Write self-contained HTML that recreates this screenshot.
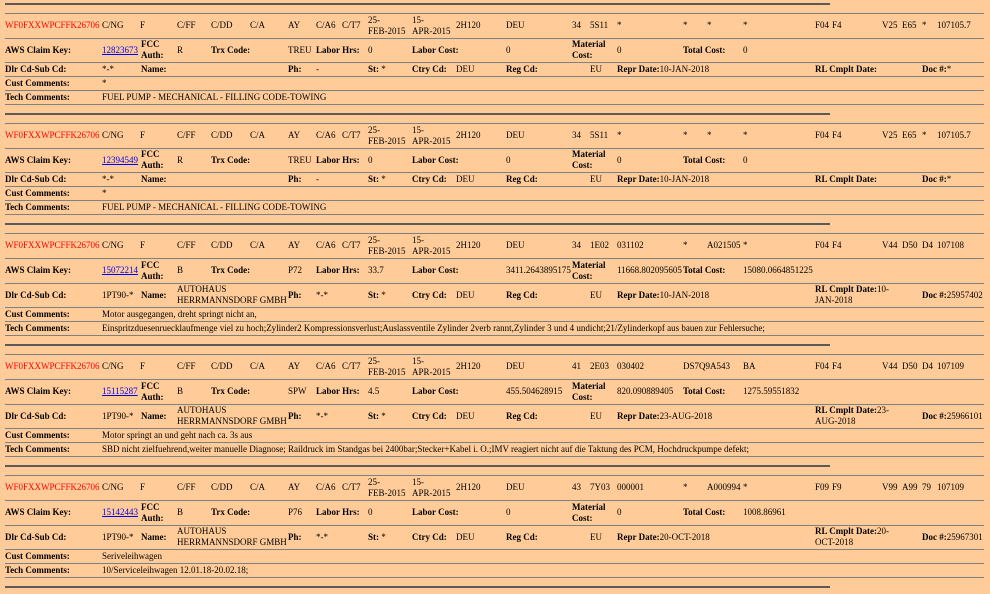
<!DOCTYPE html>
<html><head><meta charset="utf-8"><style>
*{margin:0;padding:0;box-sizing:border-box}
body{width:990px;height:594px;background:#FFCC99;position:relative;overflow:hidden;font-family:"Liberation Serif",serif;font-size:9px;color:#000}
.tk{position:absolute;left:5px;width:825px;height:2px;background:#5a5a5a}
.b{position:absolute;left:0;width:990px}
.l{position:absolute;left:5px;width:979px;height:1px;background:#808080}
.r{position:absolute;left:0;width:990px}
.c{position:absolute;top:0;bottom:0;display:flex;align-items:center;line-height:11px;white-space:nowrap}
b{font-weight:bold}
.red{color:#ff0000}
a{color:#0000ee;text-decoration:underline}
</style></head><body>
<div class="tk" style="top:3px"></div>
<div class="tk" style="top:113px"></div>
<div class="tk" style="top:223px"></div>
<div class="tk" style="top:344px"></div>
<div class="tk" style="top:465px"></div>
<div class="tk" style="top:586px"></div>

<!-- Block 1 -->
<div class="b" style="top:13px">
<div class="l" style="top:0"></div><div class="l" style="top:25px"></div><div class="l" style="top:49px"></div><div class="l" style="top:63px"></div><div class="l" style="top:77px"></div><div class="l" style="top:91px"></div>
<div class="r" style="top:0;height:25px">
<div class="c red" style="left:5px">WF0FXXWPCFFK26706</div><div class="c" style="left:102px">C/NG</div><div class="c" style="left:140px">F</div><div class="c" style="left:177px">C/FF</div><div class="c" style="left:211px">C/DD</div><div class="c" style="left:250px">C/A</div><div class="c" style="left:288px">AY</div><div class="c" style="left:316px">C/A6</div><div class="c" style="left:342px">C/T7</div><div class="c" style="left:368px">25-<br>FEB-2015</div><div class="c" style="left:412px">15-<br>APR-2015</div><div class="c" style="left:456px">2H120</div><div class="c" style="left:506px">DEU</div><div class="c" style="left:572px">34</div><div class="c" style="left:590px">5S11</div><div class="c" style="left:617px">*</div><div class="c" style="left:683px">*</div><div class="c" style="left:707px">*</div><div class="c" style="left:743px">*</div><div class="c" style="left:815px">F04</div><div class="c" style="left:832px">F4</div><div class="c" style="left:882px">V25</div><div class="c" style="left:902px">E65</div><div class="c" style="left:922px">*</div><div class="c" style="left:937px">107105.7</div>
</div>
<div class="r" style="top:25px;height:24px">
<div class="c" style="left:5px"><b>AWS Claim Key:</b></div><div class="c" style="left:102px"><a>12823673</a></div><div class="c" style="left:141px"><b>FCC<br>Auth:</b></div><div class="c" style="left:177px">R</div><div class="c" style="left:211px"><b>Trx Code:</b></div><div class="c" style="left:288px">TREU</div><div class="c" style="left:316px"><b>Labor Hrs:</b></div><div class="c" style="left:368px">0</div><div class="c" style="left:412px"><b>Labor Cost:</b></div><div class="c" style="left:506px">0</div><div class="c" style="left:572px"><b>Material<br>Cost:</b></div><div class="c" style="left:617px">0</div><div class="c" style="left:683px"><b>Total Cost:</b></div><div class="c" style="left:743px">0</div>
</div>
<div class="r" style="top:49px;height:14px">
<div class="c" style="left:5px"><b>Dlr Cd-Sub Cd:</b></div><div class="c" style="left:102px">*-*</div><div class="c" style="left:141px"><b>Name:</b></div><div class="c" style="left:288px"><b>Ph:</b></div><div class="c" style="left:316px">-</div><div class="c" style="left:368px"><b>St:</b>&nbsp;*</div><div class="c" style="left:412px"><b>Ctry Cd:</b></div><div class="c" style="left:456px">DEU</div><div class="c" style="left:506px"><b>Reg Cd:</b></div><div class="c" style="left:590px">EU</div><div class="c" style="left:617px"><b>Repr Date:</b>10-JAN-2018</div><div class="c" style="left:815px"><b>RL Cmplt Date:</b></div><div class="c" style="left:922px"><b>Doc #:</b>*</div>
</div>
<div class="r" style="top:63px;height:14px"><div class="c" style="left:5px"><b>Cust Comments:</b></div><div class="c" style="left:102px">*</div></div>
<div class="r" style="top:77px;height:14px"><div class="c" style="left:5px"><b>Tech Comments:</b></div><div class="c" style="left:102px">FUEL PUMP - MECHANICAL - FILLING CODE-TOWING</div></div>
</div>

<!-- Block 2 -->
<div class="b" style="top:123px">
<div class="l" style="top:0"></div><div class="l" style="top:25px"></div><div class="l" style="top:49px"></div><div class="l" style="top:63px"></div><div class="l" style="top:77px"></div><div class="l" style="top:91px"></div>
<div class="r" style="top:0;height:25px">
<div class="c red" style="left:5px">WF0FXXWPCFFK26706</div><div class="c" style="left:102px">C/NG</div><div class="c" style="left:140px">F</div><div class="c" style="left:177px">C/FF</div><div class="c" style="left:211px">C/DD</div><div class="c" style="left:250px">C/A</div><div class="c" style="left:288px">AY</div><div class="c" style="left:316px">C/A6</div><div class="c" style="left:342px">C/T7</div><div class="c" style="left:368px">25-<br>FEB-2015</div><div class="c" style="left:412px">15-<br>APR-2015</div><div class="c" style="left:456px">2H120</div><div class="c" style="left:506px">DEU</div><div class="c" style="left:572px">34</div><div class="c" style="left:590px">5S11</div><div class="c" style="left:617px">*</div><div class="c" style="left:683px">*</div><div class="c" style="left:707px">*</div><div class="c" style="left:743px">*</div><div class="c" style="left:815px">F04</div><div class="c" style="left:832px">F4</div><div class="c" style="left:882px">V25</div><div class="c" style="left:902px">E65</div><div class="c" style="left:922px">*</div><div class="c" style="left:937px">107105.7</div>
</div>
<div class="r" style="top:25px;height:24px">
<div class="c" style="left:5px"><b>AWS Claim Key:</b></div><div class="c" style="left:102px"><a>12394549</a></div><div class="c" style="left:141px"><b>FCC<br>Auth:</b></div><div class="c" style="left:177px">R</div><div class="c" style="left:211px"><b>Trx Code:</b></div><div class="c" style="left:288px">TREU</div><div class="c" style="left:316px"><b>Labor Hrs:</b></div><div class="c" style="left:368px">0</div><div class="c" style="left:412px"><b>Labor Cost:</b></div><div class="c" style="left:506px">0</div><div class="c" style="left:572px"><b>Material<br>Cost:</b></div><div class="c" style="left:617px">0</div><div class="c" style="left:683px"><b>Total Cost:</b></div><div class="c" style="left:743px">0</div>
</div>
<div class="r" style="top:49px;height:14px">
<div class="c" style="left:5px"><b>Dlr Cd-Sub Cd:</b></div><div class="c" style="left:102px">*-*</div><div class="c" style="left:141px"><b>Name:</b></div><div class="c" style="left:288px"><b>Ph:</b></div><div class="c" style="left:316px">-</div><div class="c" style="left:368px"><b>St:</b>&nbsp;*</div><div class="c" style="left:412px"><b>Ctry Cd:</b></div><div class="c" style="left:456px">DEU</div><div class="c" style="left:506px"><b>Reg Cd:</b></div><div class="c" style="left:590px">EU</div><div class="c" style="left:617px"><b>Repr Date:</b>10-JAN-2018</div><div class="c" style="left:815px"><b>RL Cmplt Date:</b></div><div class="c" style="left:922px"><b>Doc #:</b>*</div>
</div>
<div class="r" style="top:63px;height:14px"><div class="c" style="left:5px"><b>Cust Comments:</b></div><div class="c" style="left:102px">*</div></div>
<div class="r" style="top:77px;height:14px"><div class="c" style="left:5px"><b>Tech Comments:</b></div><div class="c" style="left:102px">FUEL PUMP - MECHANICAL - FILLING CODE-TOWING</div></div>
</div>

<!-- Block 3 -->
<div class="b" style="top:233px">
<div class="l" style="top:0"></div><div class="l" style="top:25px"></div><div class="l" style="top:50px"></div><div class="l" style="top:74px"></div><div class="l" style="top:88px"></div><div class="l" style="top:102px"></div>
<div class="r" style="top:0;height:25px">
<div class="c red" style="left:5px">WF0FXXWPCFFK26706</div><div class="c" style="left:102px">C/NG</div><div class="c" style="left:140px">F</div><div class="c" style="left:177px">C/FF</div><div class="c" style="left:211px">C/DD</div><div class="c" style="left:250px">C/A</div><div class="c" style="left:288px">AY</div><div class="c" style="left:316px">C/A6</div><div class="c" style="left:342px">C/T7</div><div class="c" style="left:368px">25-<br>FEB-2015</div><div class="c" style="left:412px">15-<br>APR-2015</div><div class="c" style="left:456px">2H120</div><div class="c" style="left:506px">DEU</div><div class="c" style="left:572px">34</div><div class="c" style="left:590px">1E02</div><div class="c" style="left:617px">031102</div><div class="c" style="left:683px">*</div><div class="c" style="left:707px">A021505</div><div class="c" style="left:743px">*</div><div class="c" style="left:815px">F04</div><div class="c" style="left:832px">F4</div><div class="c" style="left:882px">V44</div><div class="c" style="left:902px">D50</div><div class="c" style="left:922px">D4</div><div class="c" style="left:937px">107108</div>
</div>
<div class="r" style="top:25px;height:25px">
<div class="c" style="left:5px"><b>AWS Claim Key:</b></div><div class="c" style="left:102px"><a>15072214</a></div><div class="c" style="left:141px"><b>FCC<br>Auth:</b></div><div class="c" style="left:177px">B</div><div class="c" style="left:211px"><b>Trx Code:</b></div><div class="c" style="left:288px">P72</div><div class="c" style="left:316px"><b>Labor Hrs:</b></div><div class="c" style="left:368px">33.7</div><div class="c" style="left:412px"><b>Labor Cost:</b></div><div class="c" style="left:506px">3411.2643895175</div><div class="c" style="left:572px"><b>Material<br>Cost:</b></div><div class="c" style="left:617px">11668.802095605</div><div class="c" style="left:683px"><b>Total Cost:</b></div><div class="c" style="left:743px">15080.0664851225</div>
</div>
<div class="r" style="top:50px;height:24px">
<div class="c" style="left:5px"><b>Dlr Cd-Sub Cd:</b></div><div class="c" style="left:102px">1PT90-*</div><div class="c" style="left:141px"><b>Name:</b></div><div class="c" style="left:177px">AUTOHAUS<br>HERRMANNSDORF GMBH</div><div class="c" style="left:288px"><b>Ph:</b></div><div class="c" style="left:316px">*-*</div><div class="c" style="left:368px"><b>St:</b>&nbsp;*</div><div class="c" style="left:412px"><b>Ctry Cd:</b></div><div class="c" style="left:456px">DEU</div><div class="c" style="left:506px"><b>Reg Cd:</b></div><div class="c" style="left:590px">EU</div><div class="c" style="left:617px"><b>Repr Date:</b>10-JAN-2018</div><div class="c" style="left:815px"><span><b>RL Cmplt Date:</b>10-<br>JAN-2018</span></div><div class="c" style="left:922px"><b>Doc #:</b>25957402</div>
</div>
<div class="r" style="top:74px;height:14px"><div class="c" style="left:5px"><b>Cust Comments:</b></div><div class="c" style="left:102px">Motor ausgegangen, dreht springt nicht an,</div></div>
<div class="r" style="top:88px;height:14px"><div class="c" style="left:5px"><b>Tech Comments:</b></div><div class="c" style="left:102px">Einspritzduesenruecklaufmenge viel zu hoch;Zylinder2 Kompressionsverlust;Auslassventile Zylinder 2verb rannt,Zylinder 3 und 4 undicht;21/Zylinderkopf aus bauen zur Fehlersuche;</div></div>
</div>

<!-- Block 4 -->
<div class="b" style="top:354px">
<div class="l" style="top:0"></div><div class="l" style="top:25px"></div><div class="l" style="top:50px"></div><div class="l" style="top:74px"></div><div class="l" style="top:88px"></div><div class="l" style="top:102px"></div>
<div class="r" style="top:0;height:25px">
<div class="c red" style="left:5px">WF0FXXWPCFFK26706</div><div class="c" style="left:102px">C/NG</div><div class="c" style="left:140px">F</div><div class="c" style="left:177px">C/FF</div><div class="c" style="left:211px">C/DD</div><div class="c" style="left:250px">C/A</div><div class="c" style="left:288px">AY</div><div class="c" style="left:316px">C/A6</div><div class="c" style="left:342px">C/T7</div><div class="c" style="left:368px">25-<br>FEB-2015</div><div class="c" style="left:412px">15-<br>APR-2015</div><div class="c" style="left:456px">2H120</div><div class="c" style="left:506px">DEU</div><div class="c" style="left:572px">41</div><div class="c" style="left:590px">2E03</div><div class="c" style="left:617px">030402</div><div class="c" style="left:683px">DS7Q9A543</div><div class="c" style="left:743px">BA</div><div class="c" style="left:815px">F04</div><div class="c" style="left:832px">F4</div><div class="c" style="left:882px">V44</div><div class="c" style="left:902px">D50</div><div class="c" style="left:922px">D4</div><div class="c" style="left:937px">107109</div>
</div>
<div class="r" style="top:25px;height:25px">
<div class="c" style="left:5px"><b>AWS Claim Key:</b></div><div class="c" style="left:102px"><a>15115287</a></div><div class="c" style="left:141px"><b>FCC<br>Auth:</b></div><div class="c" style="left:177px">B</div><div class="c" style="left:211px"><b>Trx Code:</b></div><div class="c" style="left:288px">SPW</div><div class="c" style="left:316px"><b>Labor Hrs:</b></div><div class="c" style="left:368px">4.5</div><div class="c" style="left:412px"><b>Labor Cost:</b></div><div class="c" style="left:506px">455.504628915</div><div class="c" style="left:572px"><b>Material<br>Cost:</b></div><div class="c" style="left:617px">820.090889405</div><div class="c" style="left:683px"><b>Total Cost:</b></div><div class="c" style="left:743px">1275.59551832</div>
</div>
<div class="r" style="top:50px;height:24px">
<div class="c" style="left:5px"><b>Dlr Cd-Sub Cd:</b></div><div class="c" style="left:102px">1PT90-*</div><div class="c" style="left:141px"><b>Name:</b></div><div class="c" style="left:177px">AUTOHAUS<br>HERRMANNSDORF GMBH</div><div class="c" style="left:288px"><b>Ph:</b></div><div class="c" style="left:316px">*-*</div><div class="c" style="left:368px"><b>St:</b>&nbsp;*</div><div class="c" style="left:412px"><b>Ctry Cd:</b></div><div class="c" style="left:456px">DEU</div><div class="c" style="left:506px"><b>Reg Cd:</b></div><div class="c" style="left:590px">EU</div><div class="c" style="left:617px"><b>Repr Date:</b>23-AUG-2018</div><div class="c" style="left:815px"><span><b>RL Cmplt Date:</b>23-<br>AUG-2018</span></div><div class="c" style="left:922px"><b>Doc #:</b>25966101</div>
</div>
<div class="r" style="top:74px;height:14px"><div class="c" style="left:5px"><b>Cust Comments:</b></div><div class="c" style="left:102px">Motor springt an und geht nach ca. 3s aus</div></div>
<div class="r" style="top:88px;height:14px"><div class="c" style="left:5px"><b>Tech Comments:</b></div><div class="c" style="left:102px">SBD nicht zielfuehrend,weiter manuelle Diagnose; Raildruck im Standgas bei 2400bar;Stecker+Kabel i. O.;IMV reagiert nicht auf die Taktung des PCM, Hochdruckpumpe defekt;</div></div>
</div>

<!-- Block 5 -->
<div class="b" style="top:475px">
<div class="l" style="top:0"></div><div class="l" style="top:25px"></div><div class="l" style="top:50px"></div><div class="l" style="top:74px"></div><div class="l" style="top:88px"></div><div class="l" style="top:102px"></div>
<div class="r" style="top:0;height:25px">
<div class="c red" style="left:5px">WF0FXXWPCFFK26706</div><div class="c" style="left:102px">C/NG</div><div class="c" style="left:140px">F</div><div class="c" style="left:177px">C/FF</div><div class="c" style="left:211px">C/DD</div><div class="c" style="left:250px">C/A</div><div class="c" style="left:288px">AY</div><div class="c" style="left:316px">C/A6</div><div class="c" style="left:342px">C/T7</div><div class="c" style="left:368px">25-<br>FEB-2015</div><div class="c" style="left:412px">15-<br>APR-2015</div><div class="c" style="left:456px">2H120</div><div class="c" style="left:506px">DEU</div><div class="c" style="left:572px">43</div><div class="c" style="left:590px">7Y03</div><div class="c" style="left:617px">000001</div><div class="c" style="left:683px">*</div><div class="c" style="left:707px">A000994</div><div class="c" style="left:743px">*</div><div class="c" style="left:815px">F09</div><div class="c" style="left:832px">F9</div><div class="c" style="left:882px">V99</div><div class="c" style="left:902px">A99</div><div class="c" style="left:922px">79</div><div class="c" style="left:937px">107109</div>
</div>
<div class="r" style="top:25px;height:25px">
<div class="c" style="left:5px"><b>AWS Claim Key:</b></div><div class="c" style="left:102px"><a>15142443</a></div><div class="c" style="left:141px"><b>FCC<br>Auth:</b></div><div class="c" style="left:177px">B</div><div class="c" style="left:211px"><b>Trx Code:</b></div><div class="c" style="left:288px">P76</div><div class="c" style="left:316px"><b>Labor Hrs:</b></div><div class="c" style="left:368px">0</div><div class="c" style="left:412px"><b>Labor Cost:</b></div><div class="c" style="left:506px">0</div><div class="c" style="left:572px"><b>Material<br>Cost:</b></div><div class="c" style="left:617px">0</div><div class="c" style="left:683px"><b>Total Cost:</b></div><div class="c" style="left:743px">1008.86961</div>
</div>
<div class="r" style="top:50px;height:24px">
<div class="c" style="left:5px"><b>Dlr Cd-Sub Cd:</b></div><div class="c" style="left:102px">1PT90-*</div><div class="c" style="left:141px"><b>Name:</b></div><div class="c" style="left:177px">AUTOHAUS<br>HERRMANNSDORF GMBH</div><div class="c" style="left:288px"><b>Ph:</b></div><div class="c" style="left:316px">*-*</div><div class="c" style="left:368px"><b>St:</b>&nbsp;*</div><div class="c" style="left:412px"><b>Ctry Cd:</b></div><div class="c" style="left:456px">DEU</div><div class="c" style="left:506px"><b>Reg Cd:</b></div><div class="c" style="left:590px">EU</div><div class="c" style="left:617px"><b>Repr Date:</b>20-OCT-2018</div><div class="c" style="left:815px"><span><b>RL Cmplt Date:</b>20-<br>OCT-2018</span></div><div class="c" style="left:922px"><b>Doc #:</b>25967301</div>
</div>
<div class="r" style="top:74px;height:14px"><div class="c" style="left:5px"><b>Cust Comments:</b></div><div class="c" style="left:102px">Seriveleihwagen</div></div>
<div class="r" style="top:88px;height:14px"><div class="c" style="left:5px"><b>Tech Comments:</b></div><div class="c" style="left:102px">10/Serviceleihwagen 12.01.18-20.02.18;</div></div>
</div>
</body></html>
